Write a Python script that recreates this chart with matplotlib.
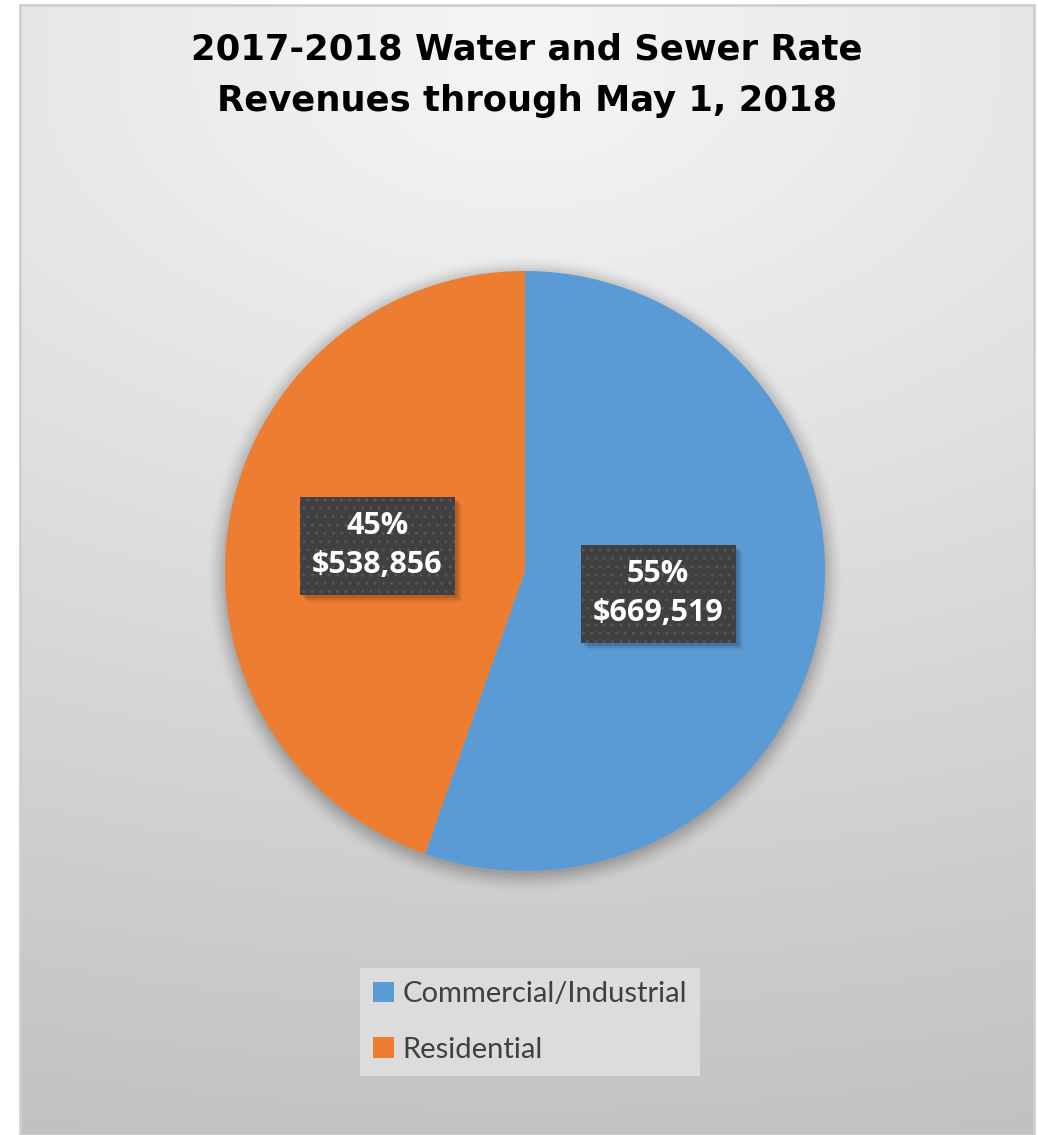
import numpy as np
import matplotlib.pyplot as plt
from matplotlib.patches import Rectangle, Patch, Circle

labels = ["Commercial/Industrial", "Residential"]
revenues = [669519, 538856]
colors = ["#5B9BD5", "#ED7D31"]
title = "2017-2018 Water and Sewer Rate\nRevenues through May 1, 2018"

W, H = 1038, 1135
fig = plt.figure(figsize=(W / 100, H / 100), dpi=100)
fig.patch.set_facecolor("white")

# gray panel with a soft radial gradient from the top centre
bg = fig.add_axes([20 / W, 0, (1034 - 20) / W, (1135 - 5) / H])
yy, xx = np.mgrid[0:1130, 0:1014]
dx = (xx + 20 - 520) * 0.0275
dy = np.clip(yy + 5 - 80, 0, None) * 0.0476
v = (245 - np.sqrt(dx ** 2 + dy ** 2)) / 255
bg.imshow(np.dstack([v, v, v]), aspect="auto", interpolation="bilinear")
bg.set_xticks([])
bg.set_yticks([])
for s in bg.spines.values():
    s.set_color("#cfcfcf")
    s.set_linewidth(2)

fig.text(527 / W, 1 - 75 / H, title, ha="center", va="center",
         fontsize=25.5, fontweight="bold", family="DejaVu Sans",
         color="black", linespacing=1.65)

cx, cy, r = 525, 571, 300
ax = fig.add_axes([(cx - 1.2 * r) / W, (H - cy - 1.2 * r) / H, 2.4 * r / W, 2.4 * r / H])
ax.axis("off")

# soft shadow beneath the pie
for i, a in enumerate(np.linspace(0.05, 0.012, 8)):
    ax.add_patch(Circle((0.0, -0.012), 1.0 + 0.008 * i, color="black",
                        alpha=a, lw=0, zorder=0))

wedges, _ = ax.pie(revenues, colors=colors, startangle=90, counterclock=False,
                   radius=1.0, wedgeprops=dict(linewidth=0))
ax.set_xlim(-1.2, 1.2)
ax.set_ylim(-1.2, 1.2)
for w in wedges:
    w.set_zorder(2)

total = sum(revenues)
dists = [0.45, 0.50]
box_w, box_h = 155 / r, 98 / r
for w, val, d in zip(wedges, revenues, dists):
    ang = np.deg2rad((w.theta1 + w.theta2) / 2)
    x, y = d * np.cos(ang), d * np.sin(ang)
    # shadow, then the dotted dark box
    for k, a in enumerate([0.12, 0.08, 0.05]):
        off = (3 + 2 * k) / r
        ax.add_patch(Rectangle((x - box_w / 2 + off, y - box_h / 2 - off),
                               box_w, box_h, color="black", alpha=a, lw=0, zorder=3))
    ax.add_patch(Rectangle((x - box_w / 2, y - box_h / 2), box_w, box_h,
                           facecolor="#404040", edgecolor="#565656", hatch="..",
                           lw=0, zorder=4))
    pct = round(100 * val / total)
    ax.text(x, y, f"{pct}%\n${val:,}", ha="center", va="center", color="white",
            fontsize=22, fontweight="bold", family="Open Sans", linespacing=1.4,
            zorder=5)

handles = [Patch(facecolor=c, edgecolor="none") for c in colors]
leg = fig.legend(handles, labels, loc="center", bbox_to_anchor=(530 / W, 1 - 1022 / H),
                 prop=dict(family="Lato", size=21), labelcolor="#404040",
                 handlelength=0.7, handleheight=0.7, handletextpad=0.3,
                 labelspacing=1.0, borderpad=0.45, borderaxespad=0,
                 fancybox=False, frameon=True, framealpha=1)
leg.get_frame().set_facecolor("#dcdcdc")
leg.get_frame().set_edgecolor("none")

fig.savefig("out.png", dpi=100)
